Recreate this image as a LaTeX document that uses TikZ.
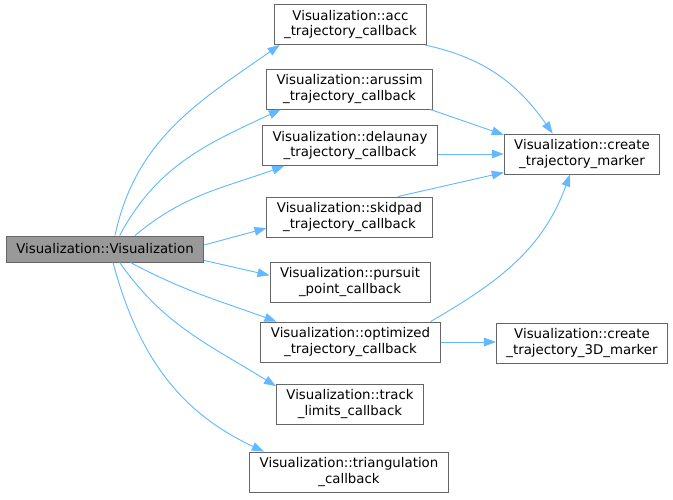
\documentclass[tikz,border=0pt]{standalone}
\usepackage{fontspec}
\setmainfont{DejaVu Sans}
\usetikzlibrary{arrows.meta,calc}
\definecolor{Edge}{HTML}{63B8FF}
\definecolor{Frame}{HTML}{666666}
\definecolor{Root}{HTML}{999999}

\begin{document}
\begin{tikzpicture}[x=0.75pt,y=-0.75pt,>={Triangle[length=9pt,width=6.5pt]},
    fn/.style={draw=Frame,line width=0.7pt,fill=white,minimum height=30pt,inner xsep=7.5pt,inner ysep=2pt,align=center,font=\fontsize{10}{11.5}\selectfont},
    root/.style={fn,fill=Root,minimum height=19.5pt},
    call/.style={->,draw=Edge,line width=0.7pt}]
    \useasboundingbox (0,0) rectangle (673,499);
    % caller
    \node[root] (vis) at (105,249) {Visualization::Visualization};
    % callees
    \node[fn] (acc) at (350.5,24.5) {Visualization::acc\\\_trajectory\_callback};
    \node[fn] (arussim) at (349.5,89) {Visualization::arussim\\\_trajectory\_callback};
    \node[fn] (delaunay) at (350,145.5) {Visualization::delaunay\\\_trajectory\_callback};
    \node[fn] (skidpad) at (349.5,217) {Visualization::skidpad\\\_trajectory\_callback};
    \node[fn] (pursuit) at (350,282) {Visualization::pursuit\\\_point\_callback};
    \node[fn] (optimized) at (350.5,342) {Visualization::optimized\\\_trajectory\_callback};
    \node[fn] (track) at (350,404) {Visualization::track\\\_limits\_callback};
    \node[fn] (triang) at (349,472) {Visualization::triangulation\\\_callback};
    \node[fn] (marker) at (582,154) {Visualization::create\\\_trajectory\_marker};
    \node[fn] (marker3d) at (582,343) {Visualization::create\\\_trajectory\_3D\_marker};
    % calls from the constructor
    \draw[call] ([xshift=7.5pt]vis.north) to[out=78,in=215] ([xshift=4.5pt]acc.south west);
    \draw[call] ([xshift=11pt]vis.north) to[out=62,in=205] ([xshift=11pt]arussim.south west);
    \draw[call] ([xshift=22.5pt]vis.north) to[out=40,in=200] ([xshift=16.5pt]delaunay.south west);
    \draw[call] ([yshift=3pt]vis.east) -- ([yshift=7pt]skidpad.south west);
    \draw[call] ([yshift=1.5pt]vis.south east) -- ([yshift=5pt]pursuit.west);
    \draw[call] ([xshift=19pt]vis.south) to[out=-28,in=160] ([xshift=12pt]optimized.north west);
    \draw[call] ([xshift=11pt]vis.south) to[out=-55,in=148] ([yshift=-2pt]track.north west);
    \draw[call] ([xshift=6pt]vis.south) to[out=-75,in=155] ([xshift=11pt]triang.north west);
    % calls to the marker builders
    \draw[call] ([xshift=-2pt]acc.south east) to[out=-12,in=125] ([xshift=-22pt]marker.north);
    \draw[call] ([xshift=-2pt]arussim.south east) -- ([yshift=-1pt]marker.north west);
    \draw[call] (delaunay.east |- marker.west) -- (marker.west);
    \draw[call] ([xshift=-26pt]skidpad.north east) -- ([yshift=1.5pt]marker.south west);
    \draw[call] ([xshift=-7.5pt]optimized.north east) to[out=30,in=-110] ([xshift=-9pt]marker.south);
    \draw[call] (optimized.east) -- (optimized.east -| marker3d.west);
  \end{tikzpicture}
\end{document}
